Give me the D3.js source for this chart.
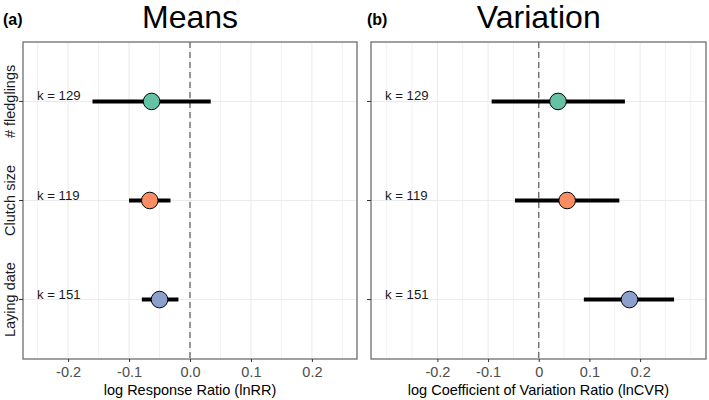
<!DOCTYPE html>
<html><head><meta charset="utf-8">
<script src="https://cdn.jsdelivr.net/npm/d3@7"></script>
<style>body{margin:0;background:#fff}svg{display:block;font-family:"Liberation Sans",Arial,sans-serif}</style>
</head><body><svg id="c" width="709" height="400"></svg>
<script>
const categories = ["# fledglings", "Clutch size", "Laying date"];
const kLabels = ["k = 129", "k = 119", "k = 151"];
const colors = ["#66C2A5", "#FC8D62", "#8DA0CB"];
// Means (lnRR)
const meanEst = [-0.063, -0.066, -0.050];
const meanLo = [-0.160, -0.100, -0.079];
const meanHi = [0.034, -0.032, -0.019];
// Variation (lnCVR)
const varEst = [0.038, 0.056, 0.179];
const varLo = [-0.093, -0.047, 0.089];
const varHi = [0.170, 0.159, 0.267];
const meanTicks = [-0.2, -0.1, 0.0, 0.1, 0.2];
const meanTickLabels = ["-0.2", "-0.1", "0.0", "0.1", "0.2"];
const varTicks = [-0.2, -0.1, 0, 0.1, 0.2];
const varTickLabels = ["-0.2", "-0.1", "0", "0.1", "0.2"];

const svg = d3.select("#c");
const FONT = "Liberation Sans, Arial, sans-serif";

function panel(o) {
  const g = svg.append("g");
  const x = d3.scaleLinear().domain(o.domain).range([o.x0, o.x1]);
  const y = d3.scalePoint().domain(categories).range([o.y0, o.y1]).padding(0.6);
  // grid
  const grid = d3.range(Math.ceil(o.domain[0] / 0.05), Math.floor(o.domain[1] / 0.05) + 1).map(i => i * 0.05);
  g.selectAll(".gv").data(grid).join("line")
    .attr("x1", d => x(d)).attr("x2", d => x(d)).attr("y1", o.y0).attr("y2", o.y1)
    .attr("stroke", "#ebebeb").attr("stroke-width", d => o.ticks.some(t => Math.abs(t - d) < 1e-9) ? 1.1 : 0.7);
  g.selectAll(".gh").data(categories).join("line")
    .attr("x1", o.x0).attr("x2", o.x1).attr("y1", d => y(d)).attr("y2", d => y(d))
    .attr("stroke", "#ebebeb").attr("stroke-width", 1.1);
  // zero line
  g.append("line").attr("x1", x(0)).attr("x2", x(0)).attr("y1", o.y0).attr("y2", o.y1)
    .attr("stroke", "#666").attr("stroke-width", 1.3).attr("stroke-dasharray", "6,4");
  // CIs
  g.selectAll(".ci").data(categories).join("line")
    .attr("x1", (d, i) => x(o.lo[i])).attr("x2", (d, i) => x(o.hi[i]))
    .attr("y1", d => y(d)).attr("y2", d => y(d))
    .attr("stroke", "#000").attr("stroke-width", 4);
  g.selectAll(".pt").data(categories).join("circle")
    .attr("cx", (d, i) => x(o.est[i])).attr("cy", d => y(d)).attr("r", 8.3)
    .attr("fill", (d, i) => colors[i]).attr("stroke", "#000").attr("stroke-width", 1);
  // k labels
  g.selectAll(".k").data(categories).join("text")
    .attr("x", o.x0 + 14).attr("y", d => y(d) - 1)
    .attr("font-size", 13.2).attr("fill", "#1a1a1a").text((d, i) => kLabels[i]);
  // border
  g.append("rect").attr("x", o.x0).attr("y", o.y0).attr("width", o.x1 - o.x0).attr("height", o.y1 - o.y0)
    .attr("fill", "none").attr("stroke", "#6e6e6e").attr("stroke-width", 1.3);
  // x axis
  const xa = g.append("g").attr("transform", `translate(0,${o.y1})`)
    .call(d3.axisBottom(x).tickValues(o.ticks).tickSize(3).tickPadding(5)
      .tickFormat((d, i) => o.tickLabels[i]));
  xa.attr("font-family", FONT);
  xa.select(".domain").remove();
  xa.selectAll("line").attr("stroke", "#333");
  xa.selectAll("text").attr("font-size", 14.5).attr("fill", "#4d4d4d").attr("dy", "0.71em");
  // y ticks
  g.selectAll(".yt").data(categories).join("line")
    .attr("x1", o.x0 - 4).attr("x2", o.x0).attr("y1", d => y(d)).attr("y2", d => y(d))
    .attr("stroke", "#333").attr("stroke-width", 1);
  if (o.ylabels) {
    g.selectAll(".yl").data(categories).join("text")
      .attr("transform", d => `translate(${o.x0 - 8},${y(d)}) rotate(-90)`)
      .attr("text-anchor", "middle").attr("font-size", 14.5).attr("fill", "#1a1a1a").text(d => d);
  }
  // x title
  g.append("text").attr("x", (o.x0 + o.x1) / 2 + (o.titleShift || 0)).attr("y", 395)
    .attr("text-anchor", "middle").attr("font-size", 14.5).attr("fill", "#000").text(o.xtitle);
  // panel title
  g.append("text").attr("x", x(0)).attr("y", 28).attr("text-anchor", "middle")
    .attr("font-size", 32).attr("fill", "#000").text(o.title);
  g.append("text").attr("x", o.tagX).attr("y", 25).attr("font-size", 16).attr("font-weight", "bold")
    .attr("fill", "#000").text(o.tag);
}

panel({x0: 23, x1: 357, y0: 42, y1: 359, domain: [-0.274, 0.274], est: meanEst, lo: meanLo, hi: meanHi,
  ticks: meanTicks, tickLabels: meanTickLabels, ylabels: true, xtitle: "log Response Ratio (lnRR)",
  title: "Means", tag: "(a)", tagX: 3});
panel({x0: 371, x1: 706, y0: 42, y1: 359, domain: [-0.331, 0.330], est: varEst, lo: varLo, hi: varHi,
  ticks: varTicks, tickLabels: varTickLabels, ylabels: false, xtitle: "log Coefficient of Variation Ratio (lnCVR)",
  title: "Variation", tag: "(b)", tagX: 367});
</script></body></html>
